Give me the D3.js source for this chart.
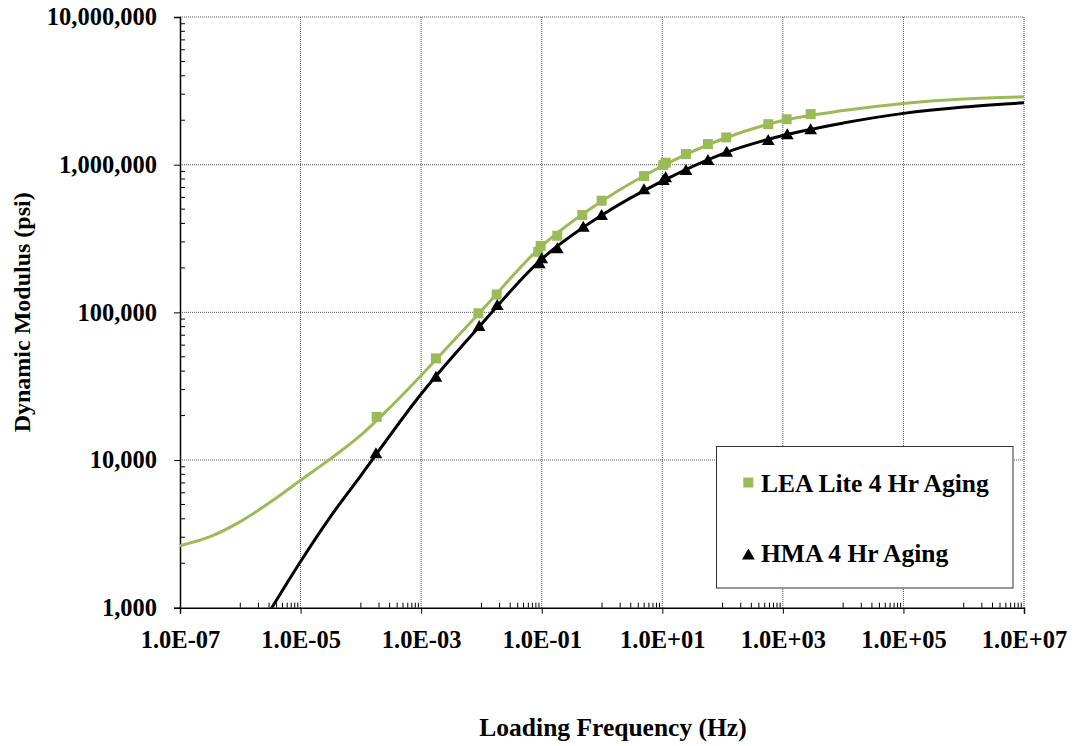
<!DOCTYPE html>
<html><head><meta charset="utf-8">
<script src="https://cdn.jsdelivr.net/npm/d3@7"></script>
<style>body{margin:0;background:#fff;} svg{display:block;}</style>
</head><body><svg id="c" width="1076" height="746"></svg>
<script>
// ---- data ----
const xTickValues = [1e-7, 1e-5, 1e-3, 1e-1, 1e1, 1e3, 1e5, 1e7];
const xTickLabels = ["1.0E-07","1.0E-05","1.0E-03","1.0E-01","1.0E+01","1.0E+03","1.0E+05","1.0E+07"];
const yTickValues = [1e3, 1e4, 1e5, 1e6, 1e7];
const yTickLabels = ["1,000","10,000","100,000","1,000,000","10,000,000"];

const seriesNames = ["LEA Lite 4 Hr Aging", "HMA 4 Hr Aging"];

// measured points (reduced frequency Hz, |E*| psi)
const leaFreq = [1.83e-4, 1.76e-3, 8.9e-3, 0.0179, 0.0877, 0.096, 0.181, 0.471, 0.986, 4.97, 10.4, 11.4, 24.7, 57.2, 115, 573, 1156, 2890];
const leaMod  = [19600, 48800, 98500, 132000, 257000, 282000, 330000, 456000, 570000, 837000, 994000, 1030000, 1180000, 1380000, 1530000, 1880000, 2030000, 2200000];
const hmaFreq = [1.78e-4, 1.76e-3, 9.2e-3, 0.0183, 0.0912, 0.1, 0.181, 0.489, 0.986, 4.97, 10.4, 11.4, 24.7, 57.2, 117, 573, 1183, 2890];
const hmaMod  = [11100, 36600, 80800, 112000, 215000, 232000, 271000, 380000, 456000, 680000, 787000, 821000, 919000, 1075000, 1222000, 1468000, 1604000, 1734000];

// fitted master curves
const leaCurveFreq = [1e-7, 3.16e-7, 1e-6, 3.16e-6, 1e-5, 3.16e-5, 1e-4, 3.16e-4, 1e-3, 1e-2, 1e-1, 1, 10, 100, 1000, 1e4, 1e5, 1e6, 1e7];
const leaCurveMod  = [2630, 3026, 3828, 5196, 7290, 10220, 14750, 23040, 37360, 102600, 281000, 567000, 979000, 1493000, 1990000, 2325000, 2600000, 2780000, 2880000];
const hmaCurveFreq = [1e-6, 1e-5, 3.16e-5, 1e-4, 1e-3, 1e-2, 1e-1, 1, 10, 100, 1000, 1e4, 1e5, 1e6, 1e7];
const hmaCurveMod  = [446, 2056, 4160, 7850, 28000, 83200, 229500, 456000, 774000, 1185000, 1575000, 1913000, 2225000, 2455000, 2625000];

// ---- layout ----
const M = {left: 180, top: 17, right: 1024, bottom: 607.7};
const green = "#9BBB59";
const FONT = "'Liberation Serif','Times New Roman',serif";
const svg = d3.select("#c");
const x = d3.scaleLog().domain([1e-7, 1e7]).range([M.left, M.right]);
const y = d3.scaleLog().domain([1e3, 1e7]).range([M.bottom, M.top]);

svg.append("defs").append("clipPath").attr("id","clip").append("rect")
  .attr("x", M.left).attr("y", M.top).attr("width", M.right - M.left).attr("height", M.bottom - M.top);

// gridlines
const grid = svg.append("g");
grid.selectAll(".gx").data(xTickValues.slice(1)).join("line")
  .attr("x1", d => x(d)).attr("x2", d => x(d)).attr("y1", M.top).attr("y2", M.bottom)
  .attr("stroke", "#555").attr("stroke-width", 1).attr("stroke-dasharray", "1,1");
grid.selectAll(".gy").data(yTickValues.slice(1)).join("line")
  .attr("x1", M.left).attr("x2", M.right).attr("y1", d => y(d)).attr("y2", d => y(d))
  .attr("stroke", "#555").attr("stroke-width", 1).attr("stroke-dasharray", "1,1");

// minor ticks
const xMinor = [];
xTickValues.slice(0, -1).forEach(v => { for (let m = 1; m <= 9; m++) xMinor.push(v * 10 * m); });
const yMinor = [];
yTickValues.slice(0, -1).forEach(v => { for (let m = 2; m <= 9; m++) yMinor.push(v * m); });

// axes
const xAxis = d3.axisBottom(x).tickValues(xTickValues).tickFormat((d, i) => xTickLabels[i]).tickSize(6).tickPadding(17);
const gx = svg.append("g").attr("transform", `translate(0,${M.bottom})`).call(xAxis);
gx.attr("font-family", null).attr("font-size", null);
gx.select(".domain").attr("stroke", "#000").attr("stroke-width", 1.5);
gx.selectAll(".tick line").attr("stroke", "#000");
gx.selectAll("text").style("font-family", FONT).style("font-weight", "bold").style("font-size", "24.5px").attr("fill", "#000");
gx.selectAll(".minor").data(xMinor.filter(v => !xTickValues.some(t => Math.abs(Math.log10(t) - Math.log10(v)) < 1e-6))).join("line")
  .attr("x1", d => x(d)).attr("x2", d => x(d)).attr("y1", 0).attr("y2", -5).attr("stroke", "#000");

const yAxis = d3.axisLeft(y).tickValues(yTickValues).tickFormat((d, i) => yTickLabels[i]).tickSize(6).tickPadding(17);
const gy = svg.append("g").attr("transform", `translate(${M.left},0)`).call(yAxis);
gy.attr("font-family", null).attr("font-size", null);
gy.select(".domain").attr("stroke", "#000").attr("stroke-width", 1.5);
gy.selectAll(".tick line").attr("stroke", "#000");
gy.selectAll("text").style("font-family", FONT).style("font-weight", "bold").style("font-size", "24.5px").attr("fill", "#000");
gy.selectAll(".minor").data(yMinor).join("line")
  .attr("x1", 0).attr("x2", 5).attr("y1", d => y(d)).attr("y2", d => y(d)).attr("stroke", "#000");

// axis titles
svg.append("text").attr("x", 613).attr("y", 736).attr("text-anchor", "middle")
  .style("font-family", FONT).style("font-weight", "bold").style("font-size", "25.5px").text("Loading Frequency (Hz)");
svg.append("text").attr("transform", `translate(30,${(M.top + M.bottom) / 2}) rotate(-90)`).attr("text-anchor", "middle")
  .style("font-family", FONT).style("font-weight", "bold").style("font-size", "24px").text("Dynamic Modulus (psi)");

// curves
const line = d3.line().x(d => x(d[0])).y(d => y(d[1])).curve(d3.curveCatmullRom.alpha(0.5));
const plot = svg.append("g").attr("clip-path", "url(#clip)");
plot.append("path").datum(leaCurveFreq.map((f, i) => [f, leaCurveMod[i]]))
  .attr("d", line).attr("fill", "none").attr("stroke", green).attr("stroke-width", 3);
plot.append("path").datum(hmaCurveFreq.map((f, i) => [f, hmaCurveMod[i]]))
  .attr("d", line).attr("fill", "none").attr("stroke", "#000").attr("stroke-width", 3);

// markers
const sq = 10;
svg.append("g").selectAll("rect").data(leaFreq.map((f, i) => [f, leaMod[i]])).join("rect")
  .attr("x", d => x(d[0]) - sq / 2).attr("y", d => y(d[1]) - sq / 2).attr("width", sq).attr("height", sq)
  .attr("fill", green);
const tri = (cx, cy, s) => `M${cx},${cy - s * 0.55}L${cx + s * 0.58},${cy + s * 0.45}L${cx - s * 0.58},${cy + s * 0.45}Z`;
svg.append("g").selectAll("path").data(hmaFreq.map((f, i) => [f, hmaMod[i]])).join("path")
  .attr("d", d => tri(x(d[0]), y(d[1]), 11)).attr("fill", "#000");

// legend
const lg = svg.append("g");
lg.append("rect").attr("x", 716.5).attr("y", 446.5).attr("width", 296.5).attr("height", 141.5)
  .attr("fill", "#fff").attr("stroke", "#333").attr("stroke-width", 1);
lg.append("rect").attr("x", 743.3).attr("y", 477.5).attr("width", 10).attr("height", 10).attr("fill", green);
lg.append("path").attr("d", tri(748.4, 554.5, 11)).attr("fill", "#000");
lg.append("text").attr("x", 761).attr("y", 492).style("font-family", FONT).style("font-weight", "bold").style("font-size", "25.5px").text(seriesNames[0]);
lg.append("text").attr("x", 761).attr("y", 562).style("font-family", FONT).style("font-weight", "bold").style("font-size", "25.5px").text(seriesNames[1]);
</script></body></html>
